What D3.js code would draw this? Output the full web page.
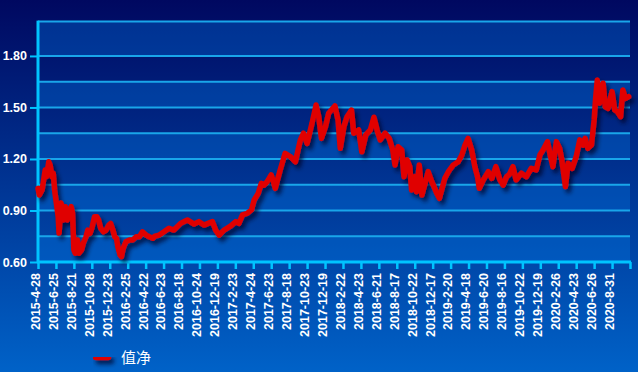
<!DOCTYPE html>
<html>
<head>
<meta charset="utf-8">
<script src="https://cdn.jsdelivr.net/npm/d3@7"></script>
<style>
  html, body { margin: 0; padding: 0; }
  body { width: 638px; height: 372px; overflow: hidden; }
</style>
</head>
<body>
<div id="container"></div>
<script>
const width = 638
const height = 372

// trading day index (ticks every 40 days) and net value
const days = [0, 3, 9, 12, 16, 19, 24, 27, 31, 34, 37, 42, 45, 47, 51, 54, 56, 61, 65, 70,
  74, 77, 80, 83, 88, 91, 97, 101, 107, 111, 116, 120, 126, 131, 135, 140, 146, 152, 158, 162,
  167, 171, 175, 178, 183, 186, 190, 196, 204, 211, 219, 226, 233, 241, 248, 256, 261, 270, 281, 292,
  303, 318, 333, 348, 359, 370, 389, 396, 404, 415, 430, 441, 448, 456, 467, 476, 482, 491, 498, 504,
  511, 520, 525, 529, 540, 551, 563, 574, 585, 592, 600, 611, 620, 626, 632, 641, 648, 662, 669, 674,
  682, 689, 699, 704, 715, 722, 731, 741, 749, 756, 763, 774, 783, 791, 796, 803, 811, 816, 823, 829,
  833, 841, 844, 850, 856, 863, 870, 878, 883, 889, 895, 900, 907, 915, 926, 937, 945, 952, 959, 967,
  974, 980, 984, 993, 1004, 1012, 1021, 1030, 1037, 1045, 1051, 1059, 1066, 1078, 1089, 1100, 1111, 1119, 1126, 1136,
  1143, 1148, 1156, 1163, 1168, 1176, 1182, 1191, 1200, 1208, 1215, 1220, 1226, 1234, 1240, 1243, 1247, 1252, 1260, 1265,
  1271, 1280, 1286, 1292, 1299, 1304, 1310, 1317]

const nav = [1.029, 0.990, 1.019, 1.068, 1.136, 1.097, 1.184, 1.165, 1.097, 1.117, 1.019, 0.922, 0.864, 0.769, 0.944, 0.922, 0.845, 0.922, 0.845, 0.893,
  0.922, 0.885, 0.670, 0.651, 0.728, 0.651, 0.670, 0.709, 0.747, 0.786, 0.767, 0.796, 0.864, 0.864, 0.845, 0.796, 0.776, 0.786, 0.815, 0.825,
  0.786, 0.747, 0.738, 0.689, 0.641, 0.631, 0.680, 0.718, 0.728, 0.728, 0.747, 0.747, 0.776, 0.757, 0.747, 0.738, 0.751, 0.757, 0.776, 0.796,
  0.786, 0.825, 0.845, 0.821, 0.835, 0.815, 0.835, 0.786, 0.757, 0.786, 0.810, 0.835, 0.825, 0.874, 0.884, 0.903, 0.961, 1.000, 1.058, 1.048,
  1.068, 1.107, 1.068, 1.029, 1.136, 1.233, 1.213, 1.184, 1.311, 1.350, 1.291, 1.408, 1.514, 1.446, 1.320, 1.388, 1.466, 1.509, 1.427, 1.262,
  1.388, 1.446, 1.485, 1.350, 1.369, 1.242, 1.340, 1.369, 1.443, 1.369, 1.311, 1.350, 1.320, 1.252, 1.165, 1.271, 1.252, 1.097, 1.194, 1.155,
  1.019, 1.097, 1.009, 1.165, 0.990, 1.058, 1.126, 1.068, 1.039, 1.000, 0.971, 1.019, 1.087, 1.126, 1.165, 1.184, 1.223, 1.281, 1.320, 1.252,
  1.155, 1.097, 1.029, 1.078, 1.126, 1.087, 1.155, 1.078, 1.048, 1.097, 1.110, 1.155, 1.078, 1.117, 1.097, 1.146, 1.136, 1.223, 1.252, 1.301,
  1.213, 1.155, 1.301, 1.262, 1.194, 1.039, 1.175, 1.146, 1.213, 1.311, 1.281, 1.320, 1.262, 1.281, 1.427, 1.543, 1.660, 1.524, 1.641, 1.504,
  1.495, 1.592, 1.485, 1.475, 1.446, 1.602, 1.553, 1.563]

const tickLabels = ['2015-4-28', '2015-6-25', '2015-8-21', '2015-10-28', '2015-12-23', '2016-2-25', '2016-4-22',
  '2016-6-23', '2016-8-18', '2016-10-24', '2016-12-19', '2017-2-23', '2017-4-24', '2017-6-23', '2017-8-18',
  '2017-10-23', '2017-12-19', '2018-2-22', '2018-4-23', '2018-6-21', '2018-8-17', '2018-10-22', '2018-12-17',
  '2019-2-20', '2019-4-18', '2019-6-20', '2019-8-16', '2019-10-22', '2019-12-19', '2020-2-26', '2020-4-23',
  '2020-6-26', '2020-8-31']

const yLabels = [0.6, 0.9, 1.2, 1.5, 1.8]
const yGrid = [0.6, 0.75, 0.9, 1.05, 1.2, 1.35, 1.5, 1.65, 1.8, 2.0]
const seriesName = '值净'

const tickStep = 40
const dayMax = 1320

const svg = d3.select('div#container').append('svg')
    .attr('width', width)
    .attr('height', height)
    .style('display', 'block')
    .style('font-family', '"Liberation Sans", Arial, sans-serif')

const defs = svg.append('defs')
const grad = defs.append('linearGradient')
    .attr('id', 'bg')
    .attr('x1', 0).attr('y1', 0).attr('x2', 0).attr('y2', 1)
grad.append('stop').attr('offset', '0%').attr('stop-color', 'rgb(0,8,96)')
grad.append('stop').attr('offset', '100%').attr('stop-color', 'rgb(0,98,200)')

// user space units so a flat legend mark still gets its shadow
const shadow = defs.append('filter')
    .attr('id', 'shadow')
    .attr('filterUnits', 'userSpaceOnUse')
    .attr('x', 0).attr('y', 0).attr('width', width).attr('height', height)
shadow.append('feDropShadow')
    .attr('dx', 3).attr('dy', 4)
    .attr('stdDeviation', 2)
    .attr('flood-color', '#000020')
    .attr('flood-opacity', 0.7)

svg.append('rect')
    .attr('width', width)
    .attr('height', height)
    .attr('fill', 'url(#bg)')

//----------------------------SCALES----------------------------//
const xScale = d3.scaleLinear().domain([0, dayMax]).range([38, 630])
const yScale = d3.scaleLinear().domain([0.6, 2.0]).range([262, 21.6])

//----------------------------BANDS-----------------------------//
const bands = d3.pairs(yGrid).filter((p, i) => i % 2 === 0)
svg.append('g').selectAll('rect')
    .data(bands)
    .enter()
    .append('rect')
    .attr('x', xScale(0))
    .attr('width', xScale(dayMax) - xScale(0))
    .attr('y', d => yScale(d[1]))
    .attr('height', d => yScale(d[0]) - yScale(d[1]))
    .attr('fill', 'rgba(0,120,230,0.35)')

svg.append('g').selectAll('line')
    .data(yGrid)
    .enter()
    .append('line')
    .attr('x1', xScale(0))
    .attr('x2', xScale(dayMax))
    .attr('y1', d => yScale(d))
    .attr('y2', d => yScale(d))
    .attr('stroke', '#19a6ea')
    .attr('stroke-width', 2)

//-----------------------------AXES-----------------------------//
const yaxis = d3.axisLeft(yScale)
    .tickValues(yLabels)
    .tickFormat(d3.format('.2f'))
    .tickSize(8)
    .tickPadding(3)

const yg = svg.append('g')
    .attr('transform', 'translate(' + xScale(0) + ',0)')
    .call(yaxis)
yg.select('.domain').remove()
yg.selectAll('.tick line').attr('stroke', '#00c4ff').attr('stroke-width', 2)
yg.selectAll('.tick text')
    .attr('fill', '#fff')
    .style('font-size', '12.5px')
    .style('font-weight', 'bold')

const xticks = d3.range(0, dayMax + 1, tickStep)
const xaxis = d3.axisBottom(xScale)
    .tickValues(xticks)
    .tickFormat((d, i) => tickLabels[i] || '')
    .tickSize(7)

const xg = svg.append('g')
    .attr('transform', 'translate(0,' + yScale(0.6) + ')')
    .call(xaxis)
xg.select('.domain').remove()
xg.selectAll('.tick line').attr('stroke', '#00c4ff').attr('stroke-width', 2.5)
xg.selectAll('.tick text')
    .attr('fill', '#fff')
    .style('font-size', '12.5px')
    .style('font-weight', 'bold')
    .attr('text-anchor', 'end')
    .attr('transform', 'translate(-3,11) rotate(-90)')
    .attr('x', 0)
    .attr('y', 0)
    .attr('dy', '0.35em')

// axis lines
svg.append('line')
    .attr('x1', xScale(0)).attr('x2', xScale(0))
    .attr('y1', yScale(2.0) - 1).attr('y2', yScale(0.6) + 1)
    .attr('stroke', '#00c4ff').attr('stroke-width', 3)
svg.append('line')
    .attr('x1', xScale(0) - 1).attr('x2', xScale(dayMax) + 1)
    .attr('y1', yScale(0.6)).attr('y2', yScale(0.6))
    .attr('stroke', '#00c4ff').attr('stroke-width', 3)

//----------------------------LINE------------------------------//
const line = d3.line()
    .x((d, i) => xScale(days[i]))
    .y(d => yScale(d))

svg.append('path')
    .datum(nav)
    .attr('d', line)
    .attr('fill', 'none')
    .attr('stroke', '#e00000')
    .attr('stroke-width', 5.5)
    .attr('stroke-linejoin', 'round')
    .attr('stroke-linecap', 'round')
    .attr('filter', 'url(#shadow)')

//---------------------------LEGEND-----------------------------//
const legend = svg.append('g').attr('transform', 'translate(93,357)')
legend.append('line')
    .attr('x1', 3).attr('x2', 15)
    .attr('y1', 0).attr('y2', 0)
    .attr('stroke', '#e00000')
    .attr('stroke-width', 6.5)
    .attr('stroke-linecap', 'round')
    .attr('filter', 'url(#shadow)')
legend.append('text')
    .attr('x', 28)
    .attr('y', 6)
    .attr('fill', '#fff')
    .style('font-size', '15px')
    .style('font-family', '"Noto Sans CJK SC", sans-serif')
    .text(seriesName)
</script>
</body>
</html>
